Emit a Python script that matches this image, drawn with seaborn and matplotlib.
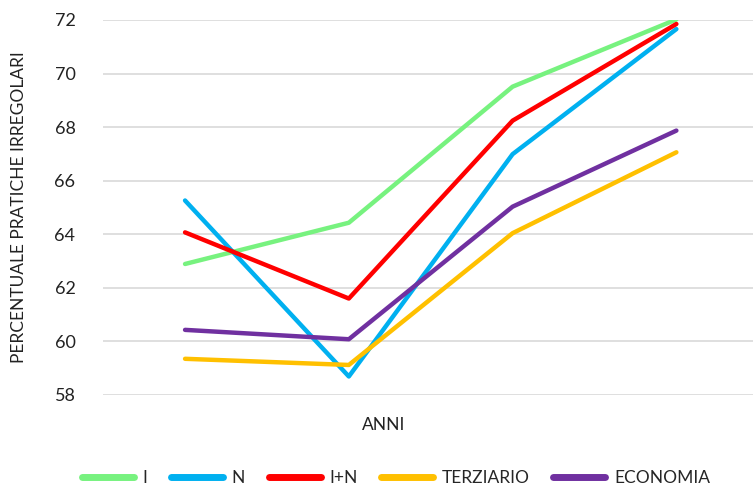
import pandas as pd
import numpy as np
import matplotlib.pyplot as plt
import seaborn as sns

# data (four periods, no tick labels shown)
periodi = [1, 2, 3, 4]
serie = ['I', 'N', 'I+N', 'TERZIARIO', 'ECONOMIA']
val_i = [62.89, 64.43, 69.51, 72.02]
val_n = [65.26, 58.69, 66.99, 71.66]
val_in = [64.07, 61.60, 68.24, 71.85]
val_terz = [59.35, 59.12, 64.04, 67.06]
val_econ = [60.43, 60.08, 65.03, 67.87]
colori = ['#77F27F', '#00B0F0', '#FF0000', '#FFC000', '#7030A0']

data = pd.DataFrame({
    'Anno': periodi * 5,
    'Serie': np.repeat(serie, 4),
    'Valore': val_i + val_n + val_in + val_terz + val_econ,
})

sns.set_theme(style='white')
plt.rcParams['font.family'] = ['Lato', 'DejaVu Sans']

fig = plt.figure(figsize=(7.53, 4.87), dpi=100)
ax = fig.add_axes([0.137, 0.189, 0.870, 0.770])

sns.lineplot(data=data, x='Anno', y='Valore', hue='Serie', hue_order=serie,
             palette=colori, linewidth=3.2, ax=ax, legend=True,
             solid_capstyle='round')

ax.set_xlim(0.5, 4.5)
ax.set_ylim(58, 72)
ax.set_yticks(np.arange(58, 73, 2))
ax.set_xticks([])
ax.yaxis.grid(True, color='#d9d9d9', linewidth=1.2)
ax.set_axisbelow(True)
sns.despine(ax=ax, left=True, bottom=True, top=True, right=True)
ax.tick_params(axis='y', labelsize=13, length=0, pad=20, colors='#222222')

ax.set_xlabel('')
ax.set_ylabel('PERCENTUALE PRATICHE IRREGOLARI', fontsize=12.5, color='#222222', labelpad=20)
fig.text(384 / 753, 1 - 425 / 487, 'ANNI', ha='center', va='center', fontsize=12.5, color='#222222')

handles, labels = ax.get_legend_handles_labels()
for h in handles:
    h.set_linewidth(5)
    h.set_solid_capstyle('round')
ax.legend(handles, labels, ncol=5, loc='center', bbox_to_anchor=(396 / 753, 1 - 478 / 487),
          bbox_transform=fig.transFigure, frameon=False, fontsize=12.5,
          handlelength=3.0, handletextpad=0.5, columnspacing=1.35)

fig.savefig('out.png', dpi=100)
